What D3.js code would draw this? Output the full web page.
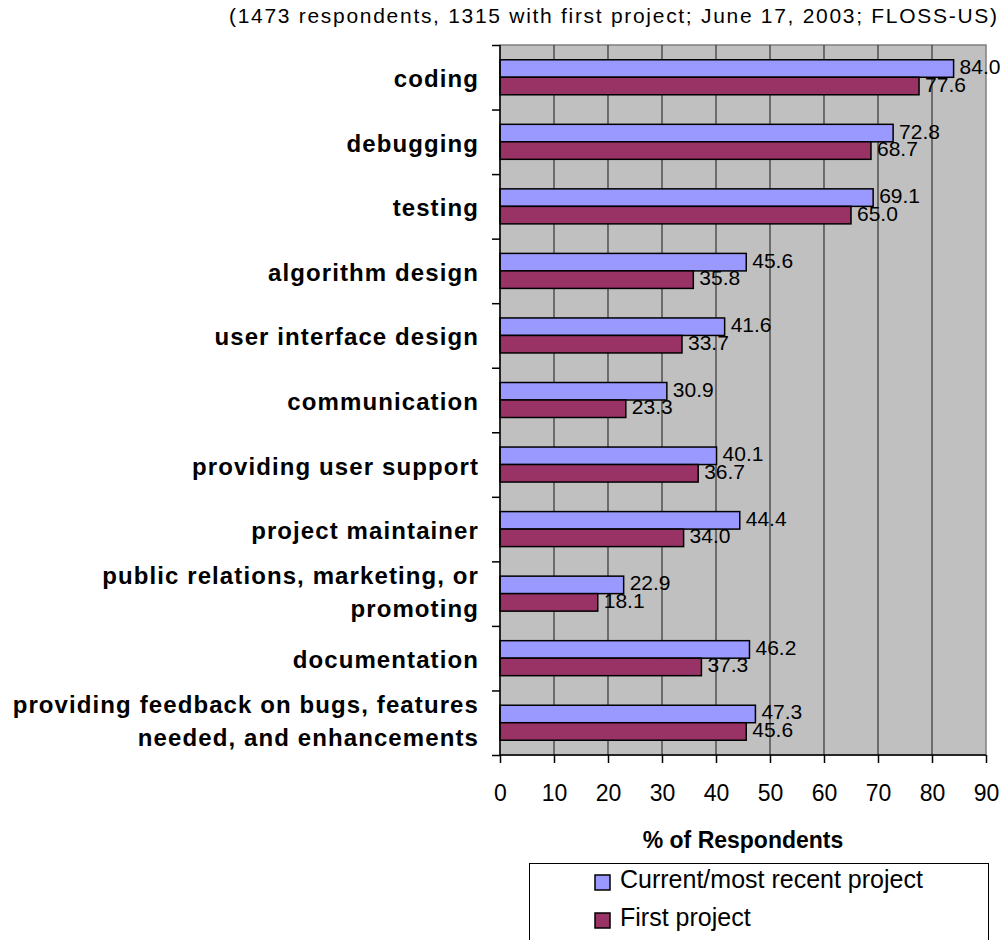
<!DOCTYPE html>
<html>
<head>
<meta charset="utf-8">
<script src="https://cdn.jsdelivr.net/npm/d3@7"></script>
<style>
  body { margin: 0; background: #fff; }
  text { font-family: "Liberation Sans", Arial, sans-serif; }
</style>
</head>
<body>
<div id="chart"></div>
<script>
var categories = [
  "coding",
  "debugging",
  "testing",
  "algorithm design",
  "user interface design",
  "communication",
  "providing user support",
  "project maintainer",
  "public relations, marketing, or\npromoting",
  "documentation",
  "providing feedback on bugs, features\nneeded, and enhancements"
];
var currentProject = [84.0, 72.8, 69.1, 45.6, 41.6, 30.9, 40.1, 44.4, 22.9, 46.2, 47.3];
var firstProject = [77.6, 68.7, 65.0, 35.8, 33.7, 23.3, 36.7, 34.0, 18.1, 37.3, 45.6];
var xTicks = [0, 10, 20, 30, 40, 50, 60, 70, 80, 90];
var seriesNames = ["Current/most recent project", "First project"];
var titleText = "(1473 respondents, 1315 with first project; June 17, 2003; FLOSS-US)";

var width = 1006, height = 940;
var plotLeft = 500, plotRight = 986, plotTop = 45, plotBottom = 755;
var colors = ["#9999ff", "#993366"];

var svg = d3.select("#chart").append("svg")
  .attr("width", width)
  .attr("height", height);

var x = d3.scaleLinear().domain([0, 90]).range([plotLeft, plotRight]);
var y = d3.scaleBand().domain(d3.range(categories.length)).range([plotTop, plotBottom]);
var barH = 17.5;

// title
svg.append("text")
  .attr("x", 613)
  .attr("y", 23)
  .attr("text-anchor", "middle")
  .attr("font-size", 21)
  .attr("textLength", 768)
  .attr("lengthAdjust", "spacing")
  .text(titleText);

// plot background
svg.append("rect")
  .attr("x", plotLeft).attr("y", plotTop)
  .attr("width", plotRight - plotLeft).attr("height", plotBottom - plotTop)
  .attr("fill", "#c0c0c0")
  .attr("stroke", "#808080")
  .attr("stroke-width", 1.5);

// gridlines
svg.append("g").selectAll("line")
  .data(xTicks.slice(1, -1))
  .enter().append("line")
  .attr("x1", function(d) { return x(d); })
  .attr("x2", function(d) { return x(d); })
  .attr("y1", plotTop).attr("y2", plotBottom)
  .attr("stroke", "#333")
  .attr("stroke-width", 1.2);

// bars
var groups = svg.append("g").selectAll("g")
  .data(categories)
  .enter().append("g")
  .attr("transform", function(d, i) {
    return "translate(0," + (y(i) + y.bandwidth() / 2) + ")";
  });

[currentProject, firstProject].forEach(function(vals, s) {
  groups.append("rect")
    .attr("x", x(0))
    .attr("y", s === 0 ? -barH : 0)
    .attr("width", function(d, i) { return x(vals[i]) - x(0); })
    .attr("height", barH)
    .attr("fill", colors[s])
    .attr("stroke", "#000")
    .attr("stroke-width", 1.5);
});

[currentProject, firstProject].forEach(function(vals, s) {
  groups.append("text")
    .attr("x", function(d, i) { return x(vals[i]) + 6; })
    .attr("y", (s === 0 ? -barH / 2 : barH / 2) - 2)
    .attr("dominant-baseline", "central")
    .attr("font-size", 21)
    .text(function(d, i) { return vals[i].toFixed(1); });
});

// category labels
groups.append("text")
  .attr("text-anchor", "end")
  .attr("font-size", 24)
  .attr("font-weight", "bold")
  .attr("letter-spacing", 1.1)
  .each(function(d) {
    var lines = d.split("\n");
    var t = d3.select(this);
    lines.forEach(function(line, k) {
      t.append("tspan")
        .attr("x", 479)
        .attr("y", 10 - (lines.length - 1) * 20 + k * 33)
        .text(line);
    });
  });

// left axis
var yAxis = d3.scaleLinear().domain([0, categories.length]).range([plotTop, plotBottom]);
svg.append("g")
  .attr("transform", "translate(" + plotLeft + ",0)")
  .call(d3.axisLeft(yAxis).ticks(categories.length).tickSize(8).tickFormat(""))
  .call(function(g) {
    g.select(".domain").attr("stroke", "#000").attr("stroke-width", 1.5).attr("d", "M0," + plotTop + "V" + plotBottom);
    g.selectAll(".tick line").attr("stroke", "#000").attr("stroke-width", 1.5);
  });

// bottom axis
svg.append("g")
  .attr("transform", "translate(0," + plotBottom + ")")
  .call(d3.axisBottom(x).tickValues(xTicks).tickSize(8).tickPadding(0).tickFormat(d3.format("d")))
  .call(function(g) {
    g.select(".domain").attr("stroke", "#000").attr("stroke-width", 1.5).attr("d", "M" + plotLeft + ",0H" + plotRight);
    g.selectAll(".tick line").attr("stroke", "#000").attr("stroke-width", 1.5);
    g.selectAll(".tick text")
      .attr("font-family", "Liberation Sans, Arial, sans-serif")
      .attr("font-size", 23)
      .attr("fill", "#000")
      .attr("dy", null)
      .attr("y", 46);
  });

// axis title
svg.append("text")
  .attr("x", (plotLeft + plotRight) / 2)
  .attr("y", 848)
  .attr("text-anchor", "middle")
  .attr("font-size", 23)
  .attr("font-weight", "bold")
  .text("% of Respondents");

// legend
var legend = svg.append("g");
legend.append("rect")
  .attr("x", 529.5).attr("y", 863.5)
  .attr("width", 459).attr("height", 90)
  .attr("fill", "#fff")
  .attr("stroke", "#000")
  .attr("stroke-width", 1);

var items = legend.selectAll(".item")
  .data(seriesNames)
  .enter().append("g")
  .attr("class", "item")
  .attr("transform", function(d, i) { return "translate(595," + (875 + i * 38) + ")"; });

items.append("rect")
  .attr("width", 15).attr("height", 15)
  .attr("fill", function(d, i) { return colors[i]; })
  .attr("stroke", "#000")
  .attr("stroke-width", 1.5);

items.append("text")
  .attr("x", 25)
  .attr("y", 13)
  .attr("font-size", 25)
  .text(function(d) { return d; });
</script>
</body>
</html>
